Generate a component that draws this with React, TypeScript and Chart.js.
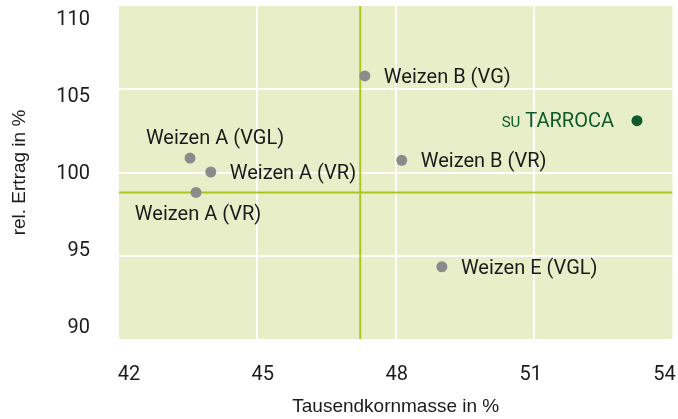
import React, { useEffect, useRef } from "react";
import { Chart, registerables } from "chart.js";

Chart.register(...registerables);

// ---- data ----
const varieties = [
  "Weizen A (VGL)",
  "Weizen A (VR)",
  "Weizen A (VR)",
  "Weizen B (VG)",
  "Weizen B (VR)",
  "Weizen E (VGL)",
];
const tkm = [43.54, 43.99, 43.67, 47.33, 48.13, 49.0];
const ertrag = [100.87, 100.03, 98.8, 105.8, 100.73, 94.34];
const labelSides = ["above", "right", "below", "right", "right", "right"];

const highlightPrefix = "SU";
const highlightName = "TARROCA";
const highlightTkm = [53.23];
const highlightErtrag = [103.11];

const refTkm = 47.23;
const refErtrag = 98.8;

const xTicks = [42, 45, 48, 51, 54];
const yTicks = [90, 95, 100, 105, 110];

const xTitle = "Tausendkornmasse in %";
const yTitle = "rel. Ertrag in %";

// ---- styles ----
const BG = "#e8efc8";
const GRID = "#ffffff";
const REF = "#abc61e";
const GRAY = "#8b8b8b";
const DARKGREEN = "#0e5a2b";
const TEXT = "#1b1b1b";
const LABEL_FONT = "Roboto, 'Liberation Sans', sans-serif";
const TITLE_FONT = "'Liberation Sans', Arial, sans-serif";
const LABEL_SIZE = 20;

const bgPlugin = {
  id: "bgFill",
  beforeDraw(chart: any) {
    const { ctx, chartArea } = chart;
    ctx.save();
    ctx.fillStyle = BG;
    ctx.fillRect(chartArea.left, chartArea.top, chartArea.right - chartArea.left, chartArea.bottom - chartArea.top);
    ctx.restore();
  },
};

const labelPlugin = {
  id: "pointLabels",
  afterDatasetsDraw(chart: any) {
    const { ctx } = chart;
    ctx.save();
    ctx.textBaseline = "alphabetic";
    ctx.font = `${LABEL_SIZE}px ${LABEL_FONT}`;
    ctx.fillStyle = TEXT;
    const meta = chart.getDatasetMeta(0);
    meta.data.forEach((el: any, i: number) => {
      const side = labelSides[i];
      const text = varieties[i];
      if (side === "right") {
        ctx.textAlign = "left";
        ctx.fillText(text, el.x + 19, el.y + 7);
      } else if (side === "above") {
        ctx.textAlign = "center";
        ctx.fillText(text, el.x + 25, el.y - 14);
      } else if (side === "below") {
        ctx.textAlign = "center";
        ctx.fillText(text, el.x + 2, el.y + 28);
      }
    });
    const hm = chart.getDatasetMeta(1);
    hm.data.forEach((el: any) => {
      ctx.fillStyle = DARKGREEN;
      ctx.textAlign = "right";
      ctx.font = `${LABEL_SIZE}px ${LABEL_FONT}`;
      const endX = el.x - 23;
      ctx.fillText(highlightName, endX, el.y + 6.5);
      const w = ctx.measureText(highlightName).width;
      ctx.font = `15px ${LABEL_FONT}`;
      ctx.fillText(highlightPrefix, endX - w - 5, el.y + 6.5);
    });
    ctx.restore();
  },
};

const noPad = (s: any) => {
  s.paddingTop = 0;
  s.paddingBottom = 0;
  s.paddingLeft = 0;
  s.paddingRight = 0;
};

export default function App() {
  const ref = useRef<HTMLCanvasElement | null>(null);

  useEffect(() => {
    if (!ref.current) return;
    const edgeGrid = (ctx: any) => {
      const v = ctx.tick ? ctx.tick.value : null;
      const s = ctx.scale;
      if (v === s.min || v === s.max) return "rgba(0,0,0,0)";
      return GRID;
    };
    const chart = new Chart(ref.current, {
      type: "scatter",
      data: {
        datasets: [
          {
            label: "Vergleich",
            data: tkm.map((x, i) => ({ x, y: ertrag[i] })),
            backgroundColor: GRAY,
            borderColor: GRAY,
            pointRadius: 5.5,
            borderWidth: 0,
          },
          {
            label: "SU TARROCA",
            data: highlightTkm.map((x, i) => ({ x, y: highlightErtrag[i] })),
            backgroundColor: DARKGREEN,
            borderColor: DARKGREEN,
            pointRadius: 5.5,
            borderWidth: 0,
          },
          {
            type: "line",
            label: "refH",
            data: [
              { x: xTicks[0], y: refErtrag },
              { x: xTicks[xTicks.length - 1], y: refErtrag },
            ],
            borderColor: REF,
            borderWidth: 2,
            pointRadius: 0,
            showLine: true,
          } as any,
          {
            type: "line",
            label: "refV",
            data: [
              { x: refTkm, y: yTicks[0] },
              { x: refTkm, y: yTicks[yTicks.length - 1] },
            ],
            borderColor: REF,
            borderWidth: 2,
            pointRadius: 0,
            showLine: true,
          } as any,
        ],
      },
      options: {
        animation: false,
        responsive: false,
        layout: { padding: { left: 0, right: 4, top: 6, bottom: 0 } },
        plugins: {
          legend: { display: false },
          tooltip: { enabled: false },
        },
        scales: {
          x: {
            type: "linear",
            position: "bottom",
            min: xTicks[0],
            max: xTicks[xTicks.length - 1],
            afterBuildTicks: (s: any) => {
              s.ticks = xTicks.map((v) => ({ value: v }));
            },
            afterFit: (s: any) => {
              s.height = 0;
              noPad(s);
            },
            ticks: { display: false },
            grid: { color: edgeGrid, lineWidth: 2, drawTicks: false },
            border: { display: false },
          },
          x2: {
            type: "linear",
            position: "bottom",
            min: 41.7765,
            max: 54.179,
            afterBuildTicks: (s: any) => {
              s.ticks = xTicks.map((v) => ({ value: v }));
            },
            afterFit: (s: any) => {
              s.height = 80;
              noPad(s);
            },
            ticks: {
              font: { family: LABEL_FONT, size: LABEL_SIZE },
              color: TEXT,
              padding: 24,
              maxRotation: 0,
            },
            grid: { display: false, drawTicks: false },
            border: { display: false },
            title: {
              display: true,
              text: xTitle,
              font: { family: TITLE_FONT, size: 19 },
              color: TEXT,
              padding: { top: 0, bottom: 1 },
            },
          },
          y: {
            type: "linear",
            position: "left",
            min: yTicks[0],
            max: yTicks[yTicks.length - 1],
            afterBuildTicks: (s: any) => {
              s.ticks = yTicks.map((v) => ({ value: v }));
            },
            afterFit: (s: any) => {
              s.width = 0;
              noPad(s);
            },
            ticks: { display: false },
            grid: { color: edgeGrid, lineWidth: 2, drawTicks: false },
            border: { display: false },
          },
          y2: {
            type: "linear",
            position: "left",
            min: 89.286,
            max: 110.909,
            afterBuildTicks: (s: any) => {
              s.ticks = yTicks.map((v) => ({ value: v }));
            },
            afterFit: (s: any) => {
              s.width = 119;
              noPad(s);
            },
            ticks: {
              font: { family: LABEL_FONT, size: LABEL_SIZE },
              color: TEXT,
              padding: 29,
            },
            grid: { display: false, drawTicks: false },
            border: { display: false },
            title: {
              display: true,
              text: yTitle,
              font: { family: TITLE_FONT, size: 19 },
              color: TEXT,
              padding: { top: 8, bottom: 0 },
            },
          },
        },
      } as any,
      plugins: [bgPlugin, labelPlugin],
    });
    return () => chart.destroy();
  }, []);

  return (
    <div style={{ position: "fixed", left: 0, top: 0, width: 678, height: 419, background: "#fff" }}>
      <canvas ref={ref} width={678} height={419} style={{ display: "block" }} />
    </div>
  );
}
